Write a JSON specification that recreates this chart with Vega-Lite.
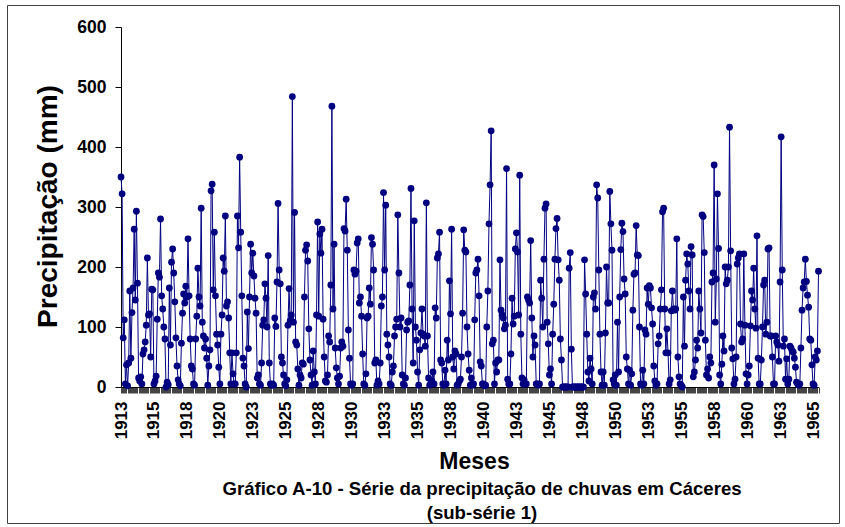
{
"$schema": "https://vega.github.io/schema/vega-lite/v6.json",
"width": 832, "height": 518,
"autosize": {"type": "none"},
"padding": {"left": 7, "top": 5, "right": 6, "bottom": 4},
"background": "white",
"config": {"view": {"stroke": "#404040", "strokeWidth": 1}, "font": "Liberation Sans"},
"title": {"text": ["Gráfico A-10 - Série da precipitação de chuvas em Cáceres", "(sub-série 1)"], "orient": "bottom", "anchor": "middle", "fontSize": 18.6, "fontWeight": "bold", "lineHeight": 24, "offset": -43, "dx": 59, "color": "#000"},
"data": {"values": [
{"t":0,"mm":350},{"t":1,"mm":322},{"t":2,"mm":82},{"t":3,"mm":112},{"t":4,"mm":5},{"t":5,"mm":37},{"t":6,"mm":2},{"t":7,"mm":40},{"t":8,"mm":160},{"t":9,"mm":48},{"t":10,"mm":124},{"t":11,"mm":165},
{"t":12,"mm":263},{"t":13,"mm":145},{"t":14,"mm":293},{"t":15,"mm":173},{"t":16,"mm":15},{"t":17,"mm":10},{"t":18,"mm":17},{"t":19,"mm":5},{"t":20,"mm":55},{"t":21,"mm":62},{"t":22,"mm":75},{"t":23,"mm":103},
{"t":24,"mm":215},{"t":25,"mm":120},{"t":26,"mm":122},{"t":27,"mm":50},{"t":28,"mm":163},{"t":29,"mm":162},{"t":30,"mm":5},{"t":31,"mm":10},{"t":32,"mm":18},{"t":33,"mm":113},{"t":34,"mm":190},{"t":35,"mm":183},
{"t":36,"mm":280},{"t":37,"mm":152},{"t":38,"mm":130},{"t":39,"mm":100},{"t":40,"mm":80},{"t":41,"mm":0},{"t":42,"mm":8},{"t":43,"mm":4},{"t":44,"mm":165},{"t":45,"mm":70},{"t":46,"mm":208},{"t":47,"mm":230},
{"t":48,"mm":190},{"t":49,"mm":142},{"t":50,"mm":82},{"t":51,"mm":35},{"t":52,"mm":12},{"t":53,"mm":5},{"t":54,"mm":2},{"t":55,"mm":73},{"t":56,"mm":123},{"t":57,"mm":155},{"t":58,"mm":140},{"t":59,"mm":168},
{"t":60,"mm":150},{"t":61,"mm":247},{"t":62,"mm":152},{"t":63,"mm":80},{"t":64,"mm":35},{"t":65,"mm":30},{"t":66,"mm":5},{"t":67,"mm":3},{"t":68,"mm":80},{"t":69,"mm":118},{"t":70,"mm":198},{"t":71,"mm":150},
{"t":72,"mm":135},{"t":73,"mm":298},{"t":74,"mm":108},{"t":75,"mm":85},{"t":76,"mm":65},{"t":77,"mm":80},{"t":78,"mm":48},{"t":79,"mm":3},{"t":80,"mm":35},{"t":81,"mm":62},{"t":82,"mm":327},{"t":83,"mm":338},
{"t":84,"mm":162},{"t":85,"mm":258},{"t":86,"mm":152},{"t":87,"mm":88},{"t":88,"mm":70},{"t":89,"mm":33},{"t":90,"mm":5},{"t":91,"mm":88},{"t":92,"mm":120},{"t":93,"mm":215},{"t":94,"mm":193},{"t":95,"mm":285},
{"t":96,"mm":135},{"t":97,"mm":142},{"t":98,"mm":115},{"t":99,"mm":57},{"t":100,"mm":5},{"t":101,"mm":57},{"t":102,"mm":22},{"t":103,"mm":5},{"t":104,"mm":5},{"t":105,"mm":57},{"t":106,"mm":285},{"t":107,"mm":232},
{"t":108,"mm":383},{"t":109,"mm":258},{"t":110,"mm":152},{"t":111,"mm":48},{"t":112,"mm":35},{"t":113,"mm":5},{"t":114,"mm":0},{"t":115,"mm":125},{"t":116,"mm":64},{"t":117,"mm":150},{"t":118,"mm":238},{"t":119,"mm":190},
{"t":120,"mm":223},{"t":121,"mm":185},{"t":122,"mm":148},{"t":123,"mm":123},{"t":124,"mm":15},{"t":125,"mm":20},{"t":126,"mm":5},{"t":127,"mm":3},{"t":128,"mm":40},{"t":129,"mm":103},{"t":130,"mm":112},{"t":131,"mm":172},
{"t":132,"mm":148},{"t":133,"mm":100},{"t":134,"mm":219},{"t":135,"mm":40},{"t":136,"mm":5},{"t":137,"mm":3},{"t":138,"mm":5},{"t":139,"mm":3},{"t":140,"mm":115},{"t":141,"mm":101},{"t":142,"mm":175},{"t":143,"mm":306},
{"t":144,"mm":195},{"t":145,"mm":172},{"t":146,"mm":50},{"t":147,"mm":40},{"t":148,"mm":20},{"t":149,"mm":5},{"t":150,"mm":2},{"t":151,"mm":12},{"t":152,"mm":103},{"t":153,"mm":164},{"t":154,"mm":110},{"t":155,"mm":120},
{"t":156,"mm":484},{"t":157,"mm":108},{"t":158,"mm":291},{"t":159,"mm":75},{"t":160,"mm":70},{"t":161,"mm":30},{"t":162,"mm":3},{"t":163,"mm":20},{"t":164,"mm":15},{"t":165,"mm":40},{"t":166,"mm":38},{"t":167,"mm":150},
{"t":168,"mm":228},{"t":169,"mm":237},{"t":170,"mm":210},{"t":171,"mm":97},{"t":172,"mm":45},{"t":173,"mm":20},{"t":174,"mm":3},{"t":175,"mm":60},{"t":176,"mm":25},{"t":177,"mm":5},{"t":178,"mm":120},{"t":179,"mm":275},
{"t":180,"mm":118},{"t":181,"mm":255},{"t":182,"mm":223},{"t":183,"mm":263},{"t":184,"mm":113},{"t":185,"mm":50},{"t":186,"mm":10},{"t":187,"mm":8},{"t":188,"mm":20},{"t":189,"mm":85},{"t":190,"mm":75},{"t":191,"mm":170},
{"t":192,"mm":468},{"t":193,"mm":130},{"t":194,"mm":238},{"t":195,"mm":65},{"t":196,"mm":32},{"t":197,"mm":15},{"t":198,"mm":5},{"t":199,"mm":18},{"t":200,"mm":65},{"t":201,"mm":75},{"t":202,"mm":68},{"t":203,"mm":264},
{"t":204,"mm":260},{"t":205,"mm":313},{"t":206,"mm":228},{"t":207,"mm":95},{"t":208,"mm":48},{"t":209,"mm":5},{"t":210,"mm":3},{"t":211,"mm":5},{"t":212,"mm":195},{"t":213,"mm":188},{"t":214,"mm":193},{"t":215,"mm":240},
{"t":216,"mm":247},{"t":217,"mm":140},{"t":218,"mm":150},{"t":219,"mm":118},{"t":220,"mm":55},{"t":221,"mm":5},{"t":222,"mm":3},{"t":223,"mm":22},{"t":224,"mm":115},{"t":225,"mm":118},{"t":226,"mm":165},{"t":227,"mm":138},
{"t":228,"mm":249},{"t":229,"mm":238},{"t":230,"mm":195},{"t":231,"mm":40},{"t":232,"mm":45},{"t":233,"mm":3},{"t":234,"mm":10},{"t":235,"mm":5},{"t":236,"mm":40},{"t":237,"mm":135},{"t":238,"mm":150},{"t":239,"mm":324},
{"t":240,"mm":195},{"t":241,"mm":303},{"t":242,"mm":88},{"t":243,"mm":70},{"t":244,"mm":50},{"t":245,"mm":5},{"t":246,"mm":3},{"t":247,"mm":25},{"t":248,"mm":35},{"t":249,"mm":85},{"t":250,"mm":100},{"t":251,"mm":113},
{"t":252,"mm":287},{"t":253,"mm":190},{"t":254,"mm":100},{"t":255,"mm":115},{"t":256,"mm":20},{"t":257,"mm":5},{"t":258,"mm":3},{"t":259,"mm":15},{"t":260,"mm":95},{"t":261,"mm":108},{"t":262,"mm":110},{"t":263,"mm":170},
{"t":264,"mm":331},{"t":265,"mm":130},{"t":266,"mm":40},{"t":267,"mm":277},{"t":268,"mm":100},{"t":269,"mm":78},{"t":270,"mm":25},{"t":271,"mm":3},{"t":272,"mm":62},{"t":273,"mm":90},{"t":274,"mm":130},{"t":275,"mm":88},
{"t":276,"mm":85},{"t":277,"mm":68},{"t":278,"mm":307},{"t":279,"mm":85},{"t":280,"mm":15},{"t":281,"mm":3},{"t":282,"mm":5},{"t":283,"mm":10},{"t":284,"mm":25},{"t":285,"mm":5},{"t":286,"mm":132},{"t":287,"mm":115},
{"t":288,"mm":215},{"t":289,"mm":222},{"t":290,"mm":258},{"t":291,"mm":45},{"t":292,"mm":40},{"t":293,"mm":5},{"t":294,"mm":3},{"t":295,"mm":28},{"t":296,"mm":5},{"t":297,"mm":78},{"t":298,"mm":45},{"t":299,"mm":177},
{"t":300,"mm":122},{"t":301,"mm":263},{"t":302,"mm":50},{"t":303,"mm":30},{"t":304,"mm":60},{"t":305,"mm":55},{"t":306,"mm":3},{"t":307,"mm":5},{"t":308,"mm":10},{"t":309,"mm":13},{"t":310,"mm":50},{"t":311,"mm":123},
{"t":312,"mm":262},{"t":313,"mm":228},{"t":314,"mm":225},{"t":315,"mm":100},{"t":316,"mm":55},{"t":317,"mm":28},{"t":318,"mm":3},{"t":319,"mm":15},{"t":320,"mm":3},{"t":321,"mm":5},{"t":322,"mm":112},{"t":323,"mm":190},
{"t":324,"mm":195},{"t":325,"mm":213},{"t":326,"mm":152},{"t":327,"mm":42},{"t":328,"mm":35},{"t":329,"mm":5},{"t":330,"mm":5},{"t":331,"mm":2},{"t":332,"mm":3},{"t":333,"mm":100},{"t":334,"mm":160},{"t":335,"mm":272},
{"t":336,"mm":337},{"t":337,"mm":427},{"t":338,"mm":72},{"t":339,"mm":78},{"t":340,"mm":5},{"t":341,"mm":40},{"t":342,"mm":25},{"t":343,"mm":45},{"t":344,"mm":45},{"t":345,"mm":212},{"t":346,"mm":128},{"t":347,"mm":120},
{"t":348,"mm":115},{"t":349,"mm":97},{"t":350,"mm":103},{"t":351,"mm":364},{"t":352,"mm":13},{"t":353,"mm":5},{"t":354,"mm":5},{"t":355,"mm":55},{"t":356,"mm":148},{"t":357,"mm":105},{"t":358,"mm":118},{"t":359,"mm":230},
{"t":360,"mm":257},{"t":361,"mm":225},{"t":362,"mm":120},{"t":363,"mm":353},{"t":364,"mm":88},{"t":365,"mm":15},{"t":366,"mm":5},{"t":367,"mm":12},{"t":368,"mm":5},{"t":369,"mm":5},{"t":370,"mm":150},{"t":371,"mm":145},
{"t":372,"mm":140},{"t":373,"mm":244},{"t":374,"mm":115},{"t":375,"mm":50},{"t":376,"mm":85},{"t":377,"mm":70},{"t":378,"mm":5},{"t":379,"mm":5},{"t":380,"mm":3},{"t":381,"mm":5},{"t":382,"mm":178},{"t":383,"mm":148},
{"t":384,"mm":100},{"t":385,"mm":213},{"t":386,"mm":298},{"t":387,"mm":305},{"t":388,"mm":108},{"t":389,"mm":72},{"t":390,"mm":20},{"t":391,"mm":30},{"t":392,"mm":5},{"t":393,"mm":88},{"t":394,"mm":138},{"t":395,"mm":213},
{"t":396,"mm":264},{"t":397,"mm":281},{"t":398,"mm":212},{"t":399,"mm":178},{"t":400,"mm":80},{"t":401,"mm":45},{"t":402,"mm":0},{"t":403,"mm":0},{"t":404,"mm":0},{"t":405,"mm":0},{"t":406,"mm":0},{"t":407,"mm":0},
{"t":408,"mm":198},{"t":409,"mm":224},{"t":410,"mm":63},{"t":411,"mm":0},{"t":412,"mm":0},{"t":413,"mm":0},{"t":414,"mm":0},{"t":415,"mm":0},{"t":416,"mm":0},{"t":417,"mm":0},{"t":418,"mm":0},{"t":419,"mm":0},
{"t":420,"mm":0},{"t":421,"mm":0},{"t":422,"mm":212},{"t":423,"mm":155},{"t":424,"mm":88},{"t":425,"mm":25},{"t":426,"mm":10},{"t":427,"mm":48},{"t":428,"mm":30},{"t":429,"mm":5},{"t":430,"mm":150},{"t":431,"mm":157},
{"t":432,"mm":130},{"t":433,"mm":337},{"t":434,"mm":315},{"t":435,"mm":195},{"t":436,"mm":88},{"t":437,"mm":25},{"t":438,"mm":3},{"t":439,"mm":25},{"t":440,"mm":3},{"t":441,"mm":90},{"t":442,"mm":200},{"t":443,"mm":140},
{"t":444,"mm":140},{"t":445,"mm":326},{"t":446,"mm":272},{"t":447,"mm":228},{"t":448,"mm":12},{"t":449,"mm":5},{"t":450,"mm":20},{"t":451,"mm":3},{"t":452,"mm":108},{"t":453,"mm":25},{"t":454,"mm":150},{"t":455,"mm":229},
{"t":456,"mm":273},{"t":457,"mm":259},{"t":458,"mm":180},{"t":459,"mm":155},{"t":460,"mm":50},{"t":461,"mm":30},{"t":462,"mm":5},{"t":463,"mm":28},{"t":464,"mm":3},{"t":465,"mm":22},{"t":466,"mm":128},{"t":467,"mm":188},
{"t":468,"mm":190},{"t":469,"mm":269},{"t":470,"mm":220},{"t":471,"mm":219},{"t":472,"mm":100},{"t":473,"mm":5},{"t":474,"mm":3},{"t":475,"mm":28},{"t":476,"mm":5},{"t":477,"mm":95},{"t":478,"mm":88},{"t":479,"mm":165},
{"t":480,"mm":138},{"t":481,"mm":169},{"t":482,"mm":165},{"t":483,"mm":132},{"t":484,"mm":105},{"t":485,"mm":35},{"t":486,"mm":10},{"t":487,"mm":3},{"t":488,"mm":5},{"t":489,"mm":72},{"t":490,"mm":85},{"t":491,"mm":130},
{"t":492,"mm":162},{"t":493,"mm":292},{"t":494,"mm":298},{"t":495,"mm":130},{"t":496,"mm":57},{"t":497,"mm":97},{"t":498,"mm":57},{"t":499,"mm":5},{"t":500,"mm":12},{"t":501,"mm":127},{"t":502,"mm":160},{"t":503,"mm":130},
{"t":504,"mm":128},{"t":505,"mm":130},{"t":506,"mm":247},{"t":507,"mm":50},{"t":508,"mm":17},{"t":509,"mm":5},{"t":510,"mm":3},{"t":511,"mm":0},{"t":512,"mm":150},{"t":513,"mm":68},{"t":514,"mm":178},{"t":515,"mm":222},
{"t":516,"mm":205},{"t":517,"mm":160},{"t":518,"mm":130},{"t":519,"mm":234},{"t":520,"mm":220},{"t":521,"mm":17},{"t":522,"mm":25},{"t":523,"mm":45},{"t":524,"mm":78},{"t":525,"mm":65},{"t":526,"mm":160},{"t":527,"mm":130},
{"t":528,"mm":90},{"t":529,"mm":287},{"t":530,"mm":284},{"t":531,"mm":224},{"t":532,"mm":78},{"t":533,"mm":20},{"t":534,"mm":30},{"t":535,"mm":15},{"t":536,"mm":50},{"t":537,"mm":40},{"t":538,"mm":175},{"t":539,"mm":190},
{"t":540,"mm":370},{"t":541,"mm":108},{"t":542,"mm":180},{"t":543,"mm":322},{"t":544,"mm":231},{"t":545,"mm":20},{"t":546,"mm":5},{"t":547,"mm":38},{"t":548,"mm":85},{"t":549,"mm":60},{"t":550,"mm":200},{"t":551,"mm":172},
{"t":552,"mm":178},{"t":553,"mm":200},{"t":554,"mm":433},{"t":555,"mm":227},{"t":556,"mm":65},{"t":557,"mm":47},{"t":558,"mm":5},{"t":559,"mm":13},{"t":560,"mm":50},{"t":561,"mm":205},{"t":562,"mm":215},{"t":563,"mm":222},
{"t":564,"mm":105},{"t":565,"mm":75},{"t":566,"mm":80},{"t":567,"mm":222},{"t":568,"mm":103},{"t":569,"mm":22},{"t":570,"mm":5},{"t":571,"mm":20},{"t":572,"mm":35},{"t":573,"mm":102},{"t":574,"mm":160},{"t":575,"mm":145},
{"t":576,"mm":198},{"t":577,"mm":130},{"t":578,"mm":98},{"t":579,"mm":252},{"t":580,"mm":48},{"t":581,"mm":5},{"t":582,"mm":5},{"t":583,"mm":45},{"t":584,"mm":100},{"t":585,"mm":170},{"t":586,"mm":178},{"t":587,"mm":88},
{"t":588,"mm":108},{"t":589,"mm":230},{"t":590,"mm":232},{"t":591,"mm":85},{"t":592,"mm":85},{"t":593,"mm":50},{"t":594,"mm":5},{"t":595,"mm":5},{"t":596,"mm":85},{"t":597,"mm":75},{"t":598,"mm":70},{"t":599,"mm":43},
{"t":600,"mm":175},{"t":601,"mm":417},{"t":602,"mm":195},{"t":603,"mm":68},{"t":604,"mm":80},{"t":605,"mm":13},{"t":606,"mm":47},{"t":607,"mm":5},{"t":608,"mm":13},{"t":609,"mm":68},{"t":610,"mm":65},{"t":611,"mm":60},
{"t":612,"mm":58},{"t":613,"mm":48},{"t":614,"mm":33},{"t":615,"mm":8},{"t":616,"mm":5},{"t":617,"mm":3},{"t":618,"mm":5},{"t":619,"mm":65},{"t":620,"mm":128},{"t":621,"mm":165},{"t":622,"mm":175},{"t":623,"mm":213},
{"t":624,"mm":176},{"t":625,"mm":153},{"t":626,"mm":133},{"t":627,"mm":80},{"t":628,"mm":78},{"t":629,"mm":37},{"t":630,"mm":5},{"t":631,"mm":3},{"t":632,"mm":50},{"t":633,"mm":45},{"t":634,"mm":60},{"t":635,"mm":193}
]},
"encoding": {
  "x": {"field": "t", "type": "quantitative",
        "scale": {"domain": [0, 635], "range": [114, 811.5], "nice": false, "zero": false},
        "axis": {"title": "Meses", "titleFontSize": 23, "titleFontWeight": "bold", "titleColor": "#000", "titleX": 467, "titleY": 74, "titleBaseline": "middle", "titleAlign": "center",
                 "offset": -136, "tickCount": 636, "labelExpr": "datum.value % 30 === 0 ? toString(floor(datum.value / 12) + 1913) : ''",
                 "labelAngle": -90, "labelFontSize": 17, "labelFontWeight": "bold", "labelColor": "#000", "labelPadding": 8,
                 "labelOverlap": false, "labelBound": false, "labelFlush": false,
                 "tickSize": 6, "tickColor": "#444", "tickWidth": 1, "domainColor": "#000", "domainWidth": 1, "grid": false}},
  "y": {"field": "mm", "type": "quantitative",
        "scale": {"domain": [0, 600], "range": [382, 22], "nice": false, "zero": true},
        "axis": {"title": "Precipitação (mm)", "titleFontSize": 28, "titleFontWeight": "bold", "titleColor": "#000", "titleX": -73, "titleY": 201, "titleAngle": 270, "titleAlign": "center", "titleBaseline": "middle",
                 "offset": -114, "values": [0, 100, 200, 300, 400, 500, 600],
                 "labelFontSize": 17.5, "labelFontWeight": "bold", "labelColor": "#000", "labelPadding": 9,
                 "tickSize": 6, "tickColor": "#000", "domainColor": "#000", "domainWidth": 1, "grid": false}}
},
"layer": [
  {"mark": {"type": "line", "color": "#000080", "strokeWidth": 1}},
  {"mark": {"type": "point", "filled": true, "color": "#000080", "size": 46, "opacity": 1}}
]
}
